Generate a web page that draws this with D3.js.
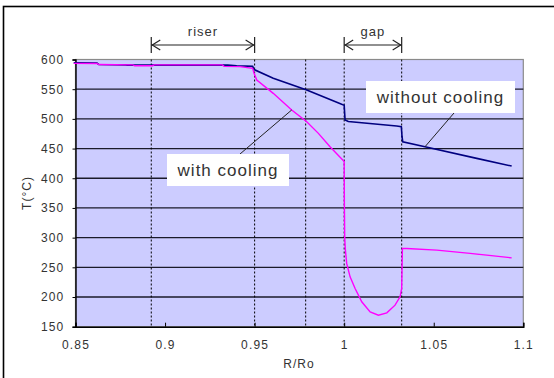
<!DOCTYPE html>
<html><head><meta charset="utf-8">
<script src="https://cdn.jsdelivr.net/npm/d3@7"></script>
<style>
html,body{margin:0;padding:0;background:#fff;}
svg text{font-family:"Liberation Sans",Arial,sans-serif;}
</style></head>
<body><svg id="c" width="554" height="378"></svg>
<script>
// ---- data ----
const xTicks = [0.85, 0.9, 0.95, 1, 1.05, 1.1];
const yTicks = [150, 200, 250, 300, 350, 400, 450, 500, 550, 600];
const dividers = [0.8923, 0.95, 0.9785, 1.0, 1.0321];

const withoutR = [0.849,0.862,0.863,0.878,0.879,0.935,0.94,0.9489,0.9497,0.9604,0.9791,0.9986,1.0,1.0005,1.0023,1.0293,1.0319,1.0323,1.0327,1.0451,1.074,1.0935];
const withoutT = [594.5,594,591.5,591,590.5,590.5,589.5,588.5,583,568.3,548.6,524.5,523,498,495.5,488,487,470,461.5,453,433.5,420.5];

const withR = [0.849,0.862,0.863,0.882,0.883,0.893,0.894,0.932,0.933,0.9418,0.9489,0.9497,0.9512,0.9604,0.9707,0.9791,0.9856,0.9921,0.9992,1.0,1.0001,1.0003,1.0006,1.0014,1.0033,1.0061,1.0098,1.0145,1.0191,1.0238,1.0284,1.0312,1.0321,1.0325,1.0349,1.0517,1.0703,1.0935];
const withT = [593.5,593.3,591.5,591,589.5,589.5,591,591,588.5,588,585,576.7,565.5,543,515,495.2,475.6,453,430.6,428,360,300,282,256.6,234,214.4,191.9,175,169.4,173.3,186.3,200.3,214.4,281.8,281.8,279,273.4,266];

const spans = [{label:"riser", from:0.8923, to:0.95},{label:"gap", from:1.0, to:1.0321}];
const labels = [
  {text:"with cooling", x0:167, x1:289, y0:154, y1:186, lx1:240, ly1:154, r:0.9707, t:515},
  {text:"without cooling", x0:366, x1:515, y0:81, y1:113, lx1:454, ly1:113, r:1.0451, t:453}
];

// ---- layout ----
const svg = d3.select("#c");
const L = 75.5, R = 523.3, T = 59.5, B = 326.7;
const x = d3.scaleLinear().domain([0.85, 1.1]).range([L, R]);
const y = d3.scaleLinear().domain([150, 600]).range([B, T]);

// outer frame
svg.append("rect").attr("x",3.5).attr("y",6.5).attr("width",600).attr("height",400)
  .attr("fill","none").attr("stroke","#000").attr("stroke-width",1.6);

// plot background
svg.append("rect").attr("x",L).attr("y",T).attr("width",R-L).attr("height",B-T)
  .attr("fill","#ccccff").attr("stroke","#8a8a8a").attr("stroke-width",1.2);

// gridlines
svg.append("g").selectAll("line").data(yTicks.filter(v=>v>150 && v<600)).join("line")
  .attr("x1",L).attr("x2",R).attr("y1",d=>y(d)).attr("y2",d=>y(d))
  .attr("stroke","#1a1a2a").attr("stroke-width",1.3);

// y axis
const ya = d3.axisLeft(y).tickValues(yTicks).tickSize(3).tickPadding(8).tickFormat(d3.format("d"));
const yg = svg.append("g").attr("transform",`translate(${L},0)`).call(ya);
yg.select(".domain").attr("stroke","#000").attr("stroke-width",1.4);
yg.selectAll(".tick line").attr("stroke","#000");
yg.selectAll("text").attr("font-size",12).attr("fill","#333").attr("letter-spacing",1.2)
  .attr("font-family","'Liberation Sans',Arial,sans-serif");

// x axis
const xa = d3.axisBottom(x).tickValues(xTicks).tickSize(-4).tickPadding(14).tickFormat(d=>String(d));
const xg = svg.append("g").attr("transform",`translate(0,${B})`).call(xa);
xg.select(".domain").attr("stroke","#000").attr("stroke-width",1.4);
xg.selectAll(".tick line").attr("stroke","#000");
xg.selectAll("text").attr("font-size",12).attr("fill","#333").attr("letter-spacing",1.2)
  .attr("font-family","'Liberation Sans',Arial,sans-serif");

// dotted dividers
svg.append("g").selectAll("line").data(dividers).join("line")
  .attr("x1",d=>x(d)).attr("x2",d=>x(d)).attr("y1",T).attr("y2",B)
  .attr("stroke","#000").attr("stroke-width",1).attr("stroke-dasharray","2,2");

// series
const line = d3.line().x(d=>x(d[0])).y(d=>y(d[1]));
svg.append("path").datum(withoutR.map((r,i)=>[r,withoutT[i]])).attr("d",line)
  .attr("fill","none").attr("stroke","#000080").attr("stroke-width",1.6);
svg.append("path").datum(withR.map((r,i)=>[r,withT[i]])).attr("d",line)
  .attr("fill","none").attr("stroke","#ff00ff").attr("stroke-width",1.4);

// span annotations
const ay = 45;
spans.forEach(s=>{
  const a = x(s.from), b = x(s.to);
  const g = svg.append("g").attr("stroke","#222").attr("fill","none").attr("stroke-width",1.2);
  g.append("line").attr("x1",a).attr("x2",b).attr("y1",ay).attr("y2",ay);
  g.append("line").attr("x1",a).attr("x2",a).attr("y1",37).attr("y2",53);
  g.append("line").attr("x1",b).attr("x2",b).attr("y1",37).attr("y2",53);
  g.append("path").attr("d",`M${a+9},${ay-5}L${a+1},${ay}L${a+9},${ay+5}`);
  g.append("path").attr("d",`M${b-9},${ay-5}L${b-1},${ay}L${b-9},${ay+5}`);
  svg.append("text").attr("x",(a+b)/2).attr("y",36).attr("text-anchor","middle")
    .attr("font-size",13).attr("fill","#333").attr("letter-spacing",1).text(s.label);
});

// callouts
labels.forEach(l=>{
  svg.append("line").attr("x1",l.lx1).attr("y1",l.ly1).attr("x2",x(l.r)).attr("y2",y(l.t))
    .attr("stroke","#222").attr("stroke-width",1);
  svg.append("rect").attr("x",l.x0).attr("y",l.y0).attr("width",l.x1-l.x0).attr("height",l.y1-l.y0)
    .attr("fill","#fff");
  svg.append("text").attr("x",(l.x0+l.x1)/2).attr("y",(l.y0+l.y1)/2+6).attr("text-anchor","middle")
    .attr("font-size",17).attr("fill","#333").attr("letter-spacing",1).text(l.text);
});

// axis titles
svg.append("text").attr("transform","translate(31,193) rotate(-90)").attr("text-anchor","middle")
  .attr("font-size",12).attr("fill","#333").attr("letter-spacing",1).text("T(°C)");
svg.append("text").attr("x",299).attr("y",368).attr("text-anchor","middle")
  .attr("font-size",12).attr("fill","#333").attr("letter-spacing",1).text("R/Ro");
</script></body></html>
